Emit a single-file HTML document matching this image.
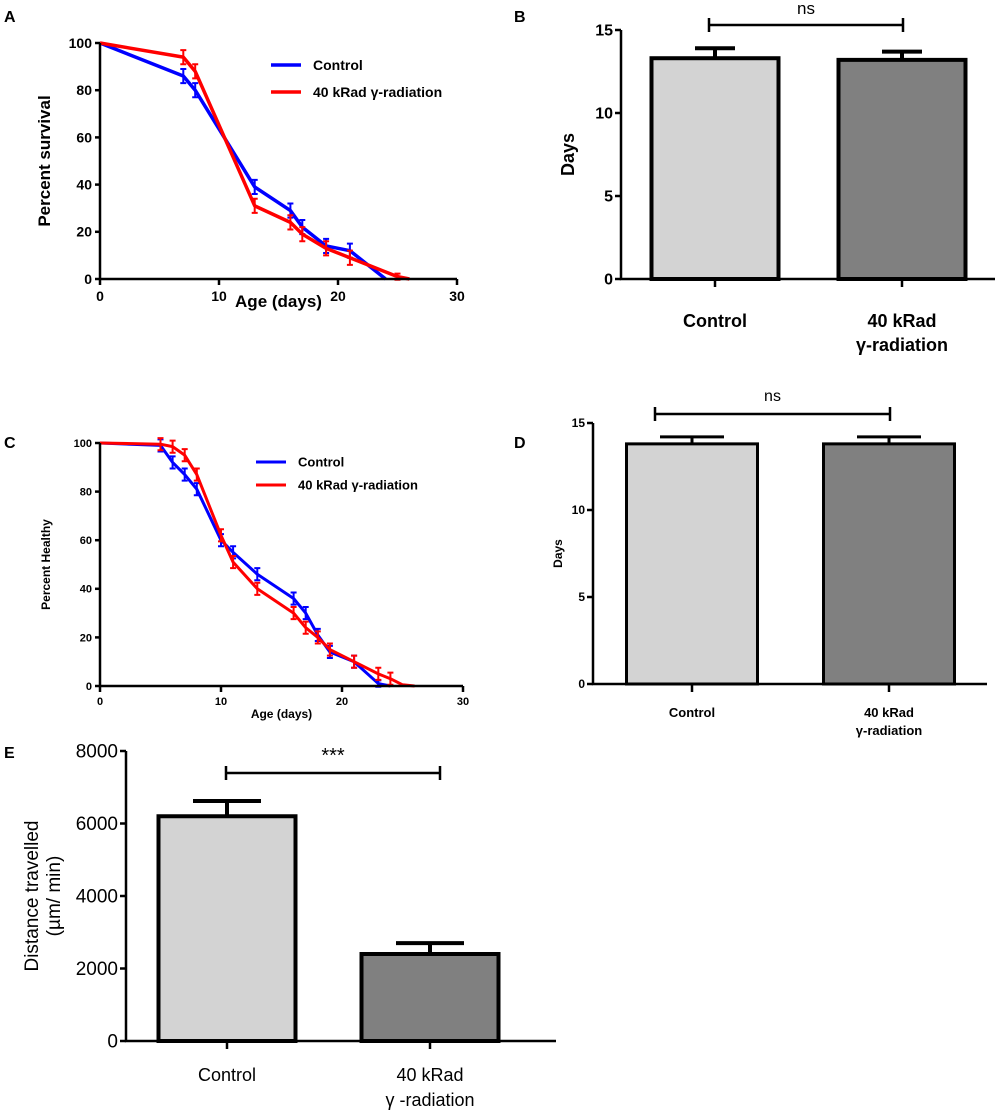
<!DOCTYPE html>
<html><head><meta charset="utf-8">
<style>
html,body{margin:0;padding:0;background:#fff;}
svg{display:block;font-family:"Liberation Sans",Arial,sans-serif;}
</style></head>
<body>
<svg id="fig" width="1000" height="1111" viewBox="0 0 1000 1111" xmlns="http://www.w3.org/2000/svg">
<text x="4" y="22" font-size="16" font-weight="bold">A</text>
<text x="514" y="22" font-size="16" font-weight="bold">B</text>
<text x="4" y="448" font-size="16" font-weight="bold">C</text>
<text x="514" y="448" font-size="16" font-weight="bold">D</text>
<text x="4" y="758" font-size="16" font-weight="bold">E</text>
</svg>
<script>
// Panel A data
const aDays = [0,7,8,13,16,17,19,21,24];
const aControl = [100,86,80,39,29,22,14,12,0];
const aDaysR = [0,7,8,13,16,17,19,21,25,26];
const aRad = [100,94,88,31,24,19,13,9,1,0];
// Panel C data
const cDays = [0,5,6,7,8,10,11,13,16,17,18,19,21,23,24];
const cControl = [100,99,92,87,81,60,55,46,36,30,21,14,10,1,0];
const cDaysR = [0,5,6,7,8,10,11,13,16,17,18,19,21,23,24,25,26];
const cRad = [100,99.5,98.5,95,87,62,51,40,30,24,20,15,10,5,3,0.5,0];
const xTicks = [0,10,20,30];
const yTicksPct = [0,20,40,60,80,100];
// Bar data
const barCats = ["Control","40 kRad γ-radiation"];
const bValues = [13.3,13.2];
const bErr = [0.6,0.5];
const dValues = [13.8,13.8];
const dErr = [0.4,0.4];
const eValues = [6200,2400];
const eErr = [420,300];
const daysTicks = [0,5,10,15];
const distTicks = [0,2000,4000,6000,8000];

const NS="http://www.w3.org/2000/svg";
const svg=document.getElementById('fig');
function mk(tag,attrs,parent,text){const e=document.createElementNS(NS,tag);for(const k in attrs)e.setAttribute(k,attrs[k]);if(text!==undefined)e.textContent=text;(parent||svg).appendChild(e);return e;}

function lineChart(c){
  const g=mk('g',{});
  
  
  const X=v=>c.x0+(v-c.xmin)/(c.xmax-c.xmin)*(c.x1-c.x0);
  const Y=v=>c.y0-(v-c.ymin)/(c.ymax-c.ymin)*(c.y0-c.y1);
  c.series.forEach(s=>{
    const pts=s.x.map((d,i)=>X(d)+','+Y(s.y[i])).join(' ');
    const pl=mk('polyline',{points:pts,fill:'none',stroke:s.color,'stroke-width':c.lw,'stroke-linejoin':'round'},g);
    
    
    s.x.forEach((d,i)=>{
      if(i===0||s.y[i]<=0.6)return;
      const e=Math.min(c.err,s.y[i]*0.8+0.5), px=X(d);
      const eb=mk('path',{d:`M${px},${Y(s.y[i]-e)}V${Y(s.y[i]+e)}M${px-3},${Y(s.y[i]-e)}h6M${px-3},${Y(s.y[i]+e)}h6`,stroke:s.color,'stroke-width':2,fill:'none'},g);
      
      
    });
  });
  const ax=mk('path',{d:`M${c.x0},${c.y1}V${c.y0}H${c.x1}`,stroke:'#000','stroke-width':2.5,fill:'none'},g);
  
  
  c.yt.forEach(t=>{mk('line',{x1:c.x0-5,x2:c.x0,y1:Y(t),y2:Y(t),stroke:'#000','stroke-width':2.5},g);
    const tl=mk('text',{x:c.x0-8,y:Y(t)+c.fs*0.35,'font-size':c.fs,'font-weight':'bold','text-anchor':'end'},g,t);
    });
  c.xt.forEach(t=>{mk('line',{x1:X(t),x2:X(t),y1:c.y0,y2:c.y0+6,stroke:'#000','stroke-width':2.5},g);
    const tl=mk('text',{x:X(t),y:c.y0+8+c.fs,'font-size':c.fs,'font-weight':'bold','text-anchor':'middle'},g,t);
    });
  const xt=mk('text',{x:(c.x0+c.x1)/2,y:c.xty,'font-size':c.tfs,'font-weight':'bold','text-anchor':'middle'},g,c.xtitle);
  
  const cy=(c.y0+c.y1)/2;
  const yt=mk('text',{x:c.ytx,y:cy,'font-size':c.tfs,'font-weight':'bold','text-anchor':'middle',transform:`rotate(-90 ${c.ytx} ${cy})`},g,c.ytitle);
  
  c.series.forEach((s,i)=>{
    const ly=c.leg[1]+i*c.legGap;
    const ll=mk('line',{x1:c.leg[0],x2:c.leg[0]+30,y1:ly,y2:ly,stroke:s.color,'stroke-width':c.lw},g);
    
    const lt=mk('text',{x:c.leg[0]+42,y:ly+c.lfs*0.35,'font-size':c.lfs,'font-weight':'bold'},g,s.label);
    
  });
}

function barChart(c){
  const g=mk('g',{});
  
  
  const Y=v=>c.y0-v/c.ymax*(c.y0-c.y1);
  const fills=['#d3d3d3','#808080'];
  c.values.forEach((v,i)=>{
    const cx=c.centers[i], hw=c.bw/2, top=Y(v), et=Y(v+c.err[i]);
    const eb=mk('path',{d:`M${cx},${top}V${et}M${cx-c.cap},${et}h${2*c.cap}`,stroke:'#000','stroke-width':c.sw,fill:'none'},g);
    
    const r=mk('rect',{x:cx-hw,y:top,width:c.bw,height:c.y0-top,fill:fills[i],stroke:'#000','stroke-width':c.sw},g);
    
  });
  const ax=mk('path',{d:`M${c.x0},${c.y1}V${c.y0}H${c.x1}`,stroke:'#000','stroke-width':2.5,fill:'none'},g);
  
  c.yt.forEach(t=>{mk('line',{x1:c.x0-6,x2:c.x0,y1:Y(t),y2:Y(t),stroke:'#000','stroke-width':2.5},g);
    const tl=mk('text',{x:c.x0-8,y:Y(t)+c.fs*0.35,'font-size':c.fs,'font-weight':c.bold?'bold':'normal','text-anchor':'end'},g,t);
    });
  c.centers.forEach((cx,i)=>{mk('line',{x1:cx,x2:cx,y1:c.y0,y2:c.y0+8,stroke:'#000','stroke-width':2.5},g);
    const parts=c.labels[i];
    parts.forEach((p,j)=>{const tl=mk('text',{x:cx,y:c.ly+j*c.lgap,'font-size':c.lfs,'font-weight':c.bold?'bold':'normal','text-anchor':'middle'},g,p);
      });
  });
  const br=mk('path',{d:`M${c.br[0]},${c.br[2]}H${c.br[1]}M${c.br[0]},${c.br[2]-7}v14M${c.br[1]},${c.br[2]-7}v14`,stroke:'#000','stroke-width':2.5,fill:'none'},g);
  
  const st=mk('text',{x:(c.br[0]+c.br[1])/2,y:c.sy,'font-size':c.sfs,'text-anchor':'middle'},g,c.sig);
  
  const cy=(c.y0+c.y1)/2;
  c.ytitle.forEach((t,j)=>{const x=c.ytx+j*c.ytgap;
    const yt=mk('text',{x:x,y:cy,'font-size':c.tfs,'font-weight':c.bold?'bold':'normal','text-anchor':'middle',transform:`rotate(-90 ${x} ${cy})`},g,t);
    });
}

lineChart({name:'panel-a-survival-chart',x0:100,x1:457,y0:279,y1:43,xmin:0,xmax:30,ymin:0,ymax:100,lw:3.5,err:3,fs:14,tfs:17,
  xt:xTicks,yt:yTicksPct,xtitle:'Age (days)',xty:307,ytitle:'Percent survival',ytx:50,leg:[271,65],legGap:27,lfs:14,
  series:[{name:'control',label:'Control',color:'#0000ff',x:aDays,y:aControl},{name:'radiation',label:'40 kRad γ-radiation',color:'#ff0000',x:aDaysR,y:aRad}]});
lineChart({name:'panel-c-healthy-chart',x0:100,x1:463,y0:686,y1:443,xmin:0,xmax:30,ymin:0,ymax:100,lw:3,err:2.5,fs:11,tfs:12,
  xt:xTicks,yt:yTicksPct,xtitle:'Age (days)',xty:718,ytitle:'Percent Healthy',ytx:50,leg:[256,462],legGap:23,lfs:13,
  series:[{name:'control',label:'Control',color:'#0000ff',x:cDays,y:cControl},{name:'radiation',label:'40 kRad  γ-radiation',color:'#ff0000',x:cDaysR,y:cRad}]});
barChart({name:'panel-b-days-chart',x0:621,x1:995,y0:279,y1:30,ymax:15,centers:[715,902],bw:127,cap:20,sw:4,values:bValues,err:bErr,
  yt:daysTicks,fs:16,bold:true,labels:[['Control'],['40 kRad','γ-radiation']],ly:327,lgap:24,lfs:18,
  br:[709,903,25],sig:'ns',sy:14,sfs:17,ytitle:['Days'],ytx:574,ytgap:0,tfs:18});
barChart({name:'panel-d-days-chart',x0:593,x1:987,y0:684,y1:423,ymax:15,centers:[692,889],bw:131,cap:32,sw:3,values:dValues,err:dErr,
  yt:daysTicks,fs:12,bold:true,labels:[['Control'],['40 kRad','γ-radiation']],ly:717,lgap:18,lfs:13,
  br:[655,890,414],sig:'ns',sy:401,sfs:16,ytitle:['Days'],ytx:562,ytgap:0,tfs:12});
barChart({name:'panel-e-distance-chart',x0:126,x1:556,y0:1041,y1:751,ymax:8000,centers:[227,430],bw:137,cap:34,sw:4,values:eValues,err:eErr,
  yt:distTicks,fs:19,bold:false,labels:[['Control'],['40 kRad','γ -radiation']],ly:1081,lgap:25,lfs:18,
  br:[226,440,773],sig:'***',sy:762,sfs:20,ytitle:['Distance travelled','(µm/ min)'],ytx:38,ytgap:22,tfs:19});
</script>
</body></html>
